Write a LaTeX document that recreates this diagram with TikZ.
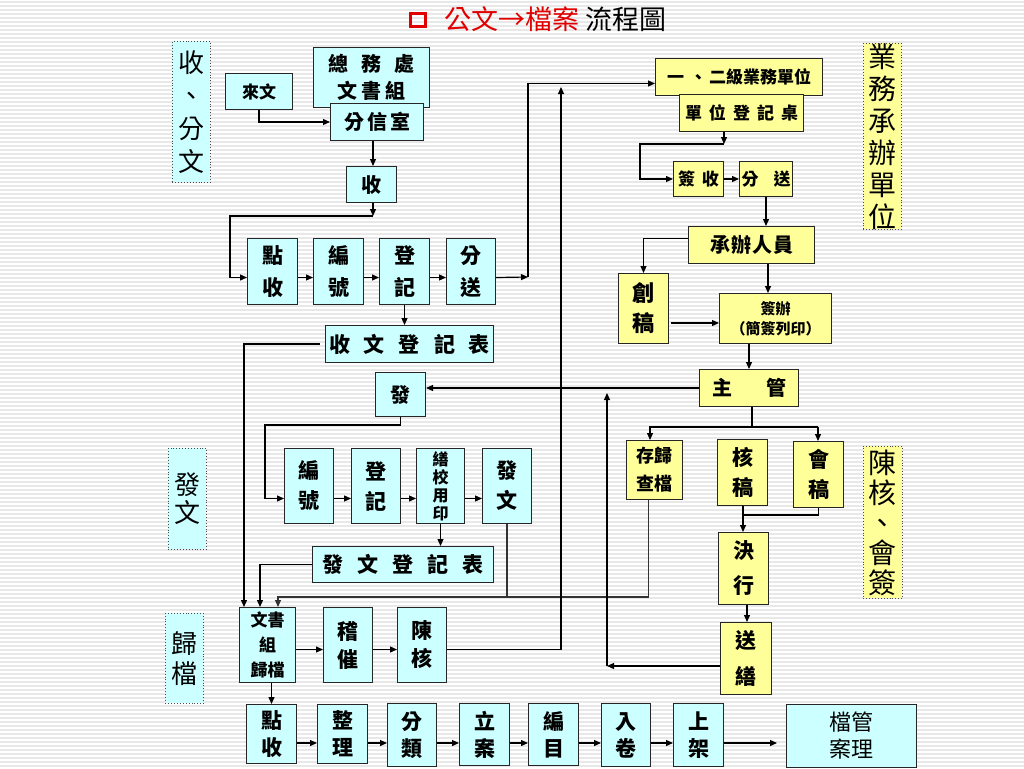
\documentclass[tikz,border=0pt]{standalone}
\usepackage{fontspec}
\setmainfont{Noto Sans CJK TC}
\usetikzlibrary{arrows.meta}
\definecolor{cyanf}{HTML}{CCFFFF}
\definecolor{yelf}{HTML}{FFFF99}
\definecolor{tred}{HTML}{E00000}
\newcommand\fsz[2]{\fontsize{#1}{#2}\selectfont}
\newcommand\hs[1]{\hspace{#1pt}}
\begin{document}
\begin{tikzpicture}[x=1pt,y=-1pt,
  bx/.style={draw=black!85, line width=1pt, inner sep=0pt, anchor=north west, align=center},
  cy/.style={bx, fill=cyanf},
  yl/.style={bx, fill=yelf},
  sidec/.style={draw=black!70, dotted, line width=0.9pt, fill=cyanf, inner sep=0pt, anchor=north west, align=center},
  sidey/.style={sidec, fill=yelf},
  arr/.style={draw, line width=1.2pt, -{Triangle[length=7pt,width=6pt]}},
  ln/.style={draw, line width=1.2pt},
  gl/.style={draw=black!80, line width=1.1pt},
  stripe/.style={draw=black!9, line width=1.5pt}
]
\useasboundingbox (0,0) rectangle (1024,768);
\fill[white] (0,0) rectangle (1024,768);
\foreach \yy in {2,6,...,766} \draw[stripe] (0,\yy) -- (1024,\yy);

% title
\node[draw=tred, line width=3pt, minimum width=15, minimum height=13, inner sep=0pt, anchor=north west] (bul) at (409,12) {};
\node[anchor=west, inner sep=0pt, font=\fsz{27}{27}] (title) at (444,19) {\textcolor{tred}{公文→檔案}\hs{6}流程圖};

% side labels
\node[sidec, minimum width=38, minimum height=141, font=\fsz{26}{33}] (s1) at (172,41) {收\\、\\分\\文};
\node[sidec, minimum width=38, minimum height=101, font=\fsz{26}{28}] (s2) at (168,448) {發\\文};
\node[sidec, minimum width=38, minimum height=90, font=\fsz{26}{30}] (s3) at (165,613) {歸\\檔};
\node[sidey, minimum width=38, minimum height=184, font=\fsz{28}{32}] (s4) at (863,43) {業\\務\\承\\辦\\單\\位};
\node[sidey, minimum width=39, minimum height=152, font=\fsz{28}{30}] (s5) at (863,446) {陳\\核\\、\\會\\簽};

% cyan boxes, receiving
\node[cy, minimum width=67, minimum height=36, font=\bfseries\fsz{17}{20}] (laiwen) at (225,73) {來文};
\node[cy, minimum width=116, minimum height=60, font=\bfseries\fsz{20}{27}] (zongwu) at (313,47) {總\hs{13}務\hs{13}處\\文\hs{4}書\hs{4}組};
\node[cy, minimum width=93, minimum height=37, font=\bfseries\fsz{20}{22}] (fenxin) at (330,103) {分\hs{3}信\hs{3}室};
\node[cy, minimum width=50, minimum height=36, font=\bfseries\fsz{20}{22}] (shou) at (346,166) {收};
\node[cy, minimum width=50, minimum height=66, font=\bfseries\fsz{21}{32}] (r1a) at (247,238) {點\\收};
\node[cy, minimum width=50, minimum height=66, font=\bfseries\fsz{21}{32}] (r1b) at (313,238) {編\\號};
\node[cy, minimum width=50, minimum height=66, font=\bfseries\fsz{21}{32}] (r1c) at (379,238) {登\\記};
\node[cy, minimum width=49, minimum height=66, font=\bfseries\fsz{21}{32}] (r1d) at (446,238) {分\\送};
\node[cy, minimum width=168, minimum height=37, font=\bfseries\fsz{21}{22}] (swb) at (325,325) {收\hs{14}文\hs{14}登\hs{14}記\hs{14}表};
\node[cy, minimum width=50, minimum height=44, font=\bfseries\fsz{20}{22}] (fa) at (375,372) {發};

% cyan boxes, sending
\node[cy, minimum width=49, minimum height=75, font=\bfseries\fsz{21}{30}] (r2a) at (284,448) {編\\號};
\node[cy, minimum width=49, minimum height=75, font=\bfseries\fsz{21}{30}] (r2b) at (351,448) {登\\記};
\node[cy, minimum width=48, minimum height=75, font=\bfseries\fsz{16}{18}] (r2c) at (416,448) {繕\\校\\用\\印};
\node[cy, minimum width=49, minimum height=75, font=\bfseries\fsz{21}{30}] (r2d) at (482,448) {發\\文};
\node[cy, minimum width=181, minimum height=36, font=\bfseries\fsz{21}{22}] (fwb) at (312,546) {發\hs{14}文\hs{14}登\hs{14}記\hs{14}表};

% cyan boxes, filing
\node[cy, minimum width=56, minimum height=75, font=\bfseries\fsz{17}{25}] (gd) at (239,607) {文書\\組\\歸檔};
\node[cy, minimum width=49, minimum height=75, font=\bfseries\fsz{21}{28}] (jc) at (323,607) {稽\\催};
\node[cy, minimum width=49, minimum height=75, font=\bfseries\fsz{21}{28}] (ch) at (397,607) {陳\\核};
\node[cy, minimum width=50, minimum height=59, font=\bfseries\fsz{21}{27}] (r4a) at (246,704) {點\\收};
\node[cy, minimum width=50, minimum height=59, font=\bfseries\fsz{21}{27}] (r4b) at (317,704) {整\\理};
\node[cy, minimum width=49, minimum height=63, font=\bfseries\fsz{21}{27}] (r4c) at (387,703) {分\\類};
\node[cy, minimum width=50, minimum height=62, font=\bfseries\fsz{21}{27}] (r4d) at (459,703) {立\\案};
\node[cy, minimum width=50, minimum height=62, font=\bfseries\fsz{21}{27}] (r4e) at (528,703) {編\\目};
\node[cy, minimum width=49, minimum height=63, font=\bfseries\fsz{21}{27}] (r4f) at (601,703) {入\\卷};
\node[cy, minimum width=50, minimum height=63, font=\bfseries\fsz{21}{27}] (r4g) at (673,703) {上\\架};
\node[cy, minimum width=130, minimum height=63, font=\fsz{22}{27}] (dg) at (786,704) {檔管\\案理};

% yellow boxes
\node[yl, minimum width=167, minimum height=37, font=\bfseries\fsz{17}{20}] (unit) at (655,58) {一\hs{6}、\hs{2}二級業務單位};
\node[yl, minimum width=124, minimum height=37, font=\bfseries\fsz{17}{20}] (desk) at (679,94) {單\hs{7}位\hs{7}登\hs{7}記\hs{7}桌};
\node[yl, minimum width=50, minimum height=35, font=\bfseries\fsz{17}{20}] (qs) at (673,161) {簽\hs{7}收};
\node[yl, minimum width=53, minimum height=35, font=\bfseries\fsz{17}{20}] (fs) at (739,161) {分\hs{15}送};
\node[yl, minimum width=126, minimum height=37, font=\bfseries\fsz{20}{22}] (cb) at (688,226) {承\hs{1}辦\hs{1}人\hs{1}員};
\node[yl, minimum width=50, minimum height=70, font=\bfseries\fsz{22}{30}] (cg) at (618,273) {創\\稿};
\node[yl, minimum width=112, minimum height=50, font=\bfseries\fsz{15}{20}] (qb) at (719,293) {簽辦\\（簡簽列印）};
\node[yl, minimum width=99, minimum height=37, font=\bfseries\fsz{20}{22}] (zg) at (699,369) {主\hs{34}管};
\node[yl, minimum width=56, minimum height=59, font=\bfseries\fsz{18}{28}] (cgd) at (626,440) {存歸\\查檔};
\node[yl, minimum width=50, minimum height=66, font=\bfseries\fsz{21}{30}] (hg) at (717,439) {核\\稿};
\node[yl, minimum width=50, minimum height=66, font=\bfseries\fsz{21}{30}] (hui) at (793,441) {會\\稿};
\node[yl, minimum width=50, minimum height=72, font=\bfseries\fsz{21}{35}] (jx) at (718,532) {決\\行};
\node[yl, minimum width=51, minimum height=72, font=\bfseries\fsz{21}{36}] (ss) at (720,622) {送\\繕};

% ---- connectors: receiving
\draw[arr] (laiwen.south) |- (fenxin.west);
\coordinate (xa) at (373,0);
\draw[arr] (xa |- fenxin.south) -- (xa |- shou.north);
\coordinate (k1) at (373,216);
\coordinate (k1b) at (230,216);
\draw[arr] (xa |- shou.south) -- (k1);
\draw[arr] (k1) -- (k1b) |- ([yshift=-6pt]r1a.west);
\draw[arr] ([yshift=-6pt]r1a.east) -- ([yshift=-6pt]r1b.west);
\draw[arr] ([yshift=-6pt]r1b.east) -- ([yshift=-6pt]r1c.west);
\draw[arr] ([yshift=-6pt]r1c.east) -- ([yshift=-6pt]r1d.west);
\coordinate (k2) at (528,277);
\draw[arr] ([yshift=-6pt]r1d.east) -- (k2);
\draw[arr] (k2) |- ([yshift=-6.5pt]unit.west);
\draw[arr] (r1c.south) -- (r1c.south |- swb.north);
\draw[arr] ([xshift=-5pt]swb.west) -| ([xshift=5pt]gd.north west);

% ---- sending
\draw[arr] (zg.west) -- (zg.west -| fa.east);
\coordinate (k3) at (265,425);
\draw[arr] (fa.south) |- (k3) |- ([yshift=-12.5pt]r2a.west);
\draw[arr] ([yshift=-12.5pt]r2a.east) -- ([yshift=-12.5pt]r2b.west);
\draw[arr] ([yshift=-12.5pt]r2b.east) -- ([yshift=-12.5pt]r2c.west);
\draw[arr] ([yshift=-12.5pt]r2c.east) -- ([yshift=-12.5pt]r2d.west);
\draw[arr] (r2c.south) -- (r2c.south |- fwb.north);
\draw[arr] (fwb.west) -| ([xshift=21pt]gd.north west);
\coordinate (k4) at (278,597);
\draw[gl, -{Triangle[length=7pt,width=6pt]}] (r2d.south) |- (k4) -- (k4 |- gd.north);
\draw[gl] ([xshift=-6pt]cgd.south) |- (k4);

% ---- filing
\coordinate (k5) at (561,87);
\draw[arr] ([yshift=-4.5pt]gd.east) -- ([yshift=-4.5pt]jc.west);
\draw[arr] ([yshift=-4.5pt]jc.east) -- ([yshift=-4.5pt]ch.west);
\draw[arr] ([yshift=-4.5pt]ch.east) -| (k5);
\draw[arr] (r4a.north |- gd.south) -- (r4a.north);
\coordinate (yr) at (0,743);
\draw[arr] (r4a.east |- yr) -- (r4b.west |- yr);
\draw[arr] (r4b.east |- yr) -- (r4c.west |- yr);
\draw[arr] (r4c.east |- yr) -- (r4d.west |- yr);
\draw[arr] (r4d.east |- yr) -- (r4e.west |- yr);
\draw[arr] (r4e.east |- yr) -- (r4f.west |- yr);
\draw[arr] (r4f.east |- yr) -- (r4g.west |- yr);
\draw[arr, shorten >=9pt] (r4g.east |- yr) -- (dg.west |- yr);

% ---- business unit
\coordinate (k6) at (724,144);
\coordinate (k6b) at (640,144);
\draw[arr] (k6 |- desk.south) -- (k6);
\draw[arr] (k6) -- (k6b) |- (qs.west);
\draw[arr] (qs.east) -- (fs.west);
\draw[arr] (fs.south) -- (fs.south |- cb.north);
\draw[arr] ([yshift=6.5pt]cb.west) -| (cg.north);
\coordinate (k7) at (671,323);
\draw[arr] (k7) -- (k7 -| qb.west);
\coordinate (k8) at (768,0);
\draw[arr] (k8 |- cb.south) -- (k8 |- qb.north);
\coordinate (k8b) at (749,0);
\draw[arr] (k8b |- qb.south) -- (k8b |- zg.north);
\coordinate (kL) at (650,427);
\coordinate (kR) at (818,427);
\coordinate (kM) at (752,0);
\draw[ln] (kM |- zg.south) -- (kM |- kL);
\draw[arr] (kR) -- (kL) -- (kL |- cgd.north);
\draw[arr] (kR) -- (kR |- hui.north);
\coordinate (k10) at (743,515);
\draw[arr] (k10 |- hg.south) -- (k10 |- jx.north);
\draw[ln] (hui.south) |- (k10);
\coordinate (k11) at (747,0);
\draw[arr] (k11 |- jx.south) -- (k11 |- ss.north);
\coordinate (k12) at (607,666);
\coordinate (k13) at (607,393);
\draw[arr] (ss.west |- k12) -- (k12);
\draw[arr] (k12) -- (k13);
\end{tikzpicture}
\end{document}
